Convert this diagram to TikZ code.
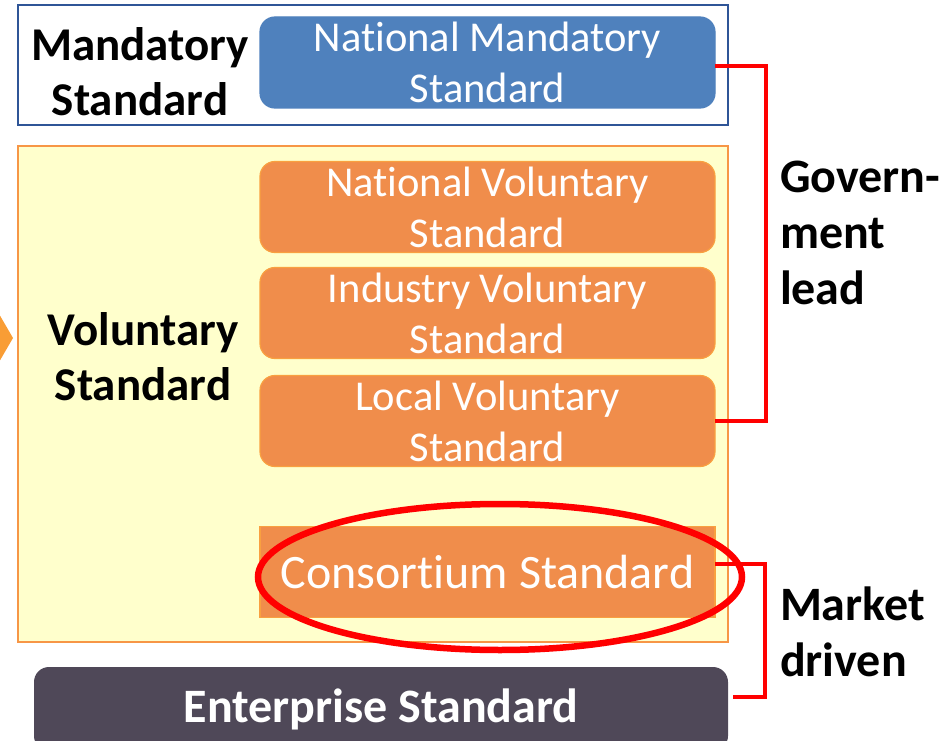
\documentclass[tikz,border=0pt]{standalone}
\usepackage{fontspec}
\setmainfont[Ligatures=NoCommon]{Carlito}
\usetikzlibrary{shapes.geometric,positioning}
\definecolor{mandblue}{HTML}{2F5597}
\definecolor{natblue}{HTML}{4F81BD}
\definecolor{volyellow}{HTML}{FFFFCC}
\definecolor{volorange}{HTML}{F79646}
\definecolor{boxorange}{HTML}{F08D4B}
\definecolor{boxedge}{HTML}{F9A040}
\definecolor{entgray}{HTML}{4F4858}
\definecolor{hired}{HTML}{FF0000}
\definecolor{arroworange}{HTML}{F99D35}
\begin{document}
\begin{tikzpicture}[
   x=1pt,y=-1pt,
   every node/.style={inner sep=0pt,outer sep=0pt},
   frame/.style={draw,line width=2pt,minimum width=710,rectangle},
   std/.style={fill=boxorange,draw=boxedge,line width=1.2pt,rounded corners=15pt,
      minimum width=455,minimum height=91,text=white,align=center,
      font=\fontsize{42.5}{51}\selectfont},
   head/.style={align=center,font=\bfseries\fontsize{47}{55}\selectfont},
   side/.style={anchor=west,align=left,font=\bfseries\fontsize{48}{56}\selectfont},
   brace/.style={draw=hired,line width=4pt}]
\useasboundingbox (0,0) rectangle (946,741);
% left arrow
\fill[arroworange] (-30,264) -- (13,338) -- (-30,412) -- cycle;
% mandatory part
\node[frame,draw=mandblue,fill=white,minimum height=120] (mand) at (373,65) {};
\node[head] (mandlbl) at (140,72) {Mandatory\\Standard};
\node[std,fill=natblue,draw=natblue] (nms) at (487.5,62.5) {National Mandatory\\Standard};
% voluntary part
\node[frame,draw=volorange,fill=volyellow,minimum height=496] (vol) at (373,394) {};
\node[head] (vollbl) at (143,357) {Voluntary\\Standard};
\node[std] (nvs) at (487.5,207) {National Voluntary\\Standard};
\node[std] (ivs) at (487.5,313) {Industry Voluntary\\Standard};
\node[std] (lvs) at (487.5,421) {Local Voluntary\\Standard};
\node[std,rounded corners=0pt,font=\fontsize{48}{56}\selectfont] (cons) at (487.5,572) {Consortium Standard};
\node[draw=hired,line width=6.5pt,ellipse,minimum width=484,minimum height=146] (ring) at (500,577) {};
% enterprise
\node[fill=entgray,rounded corners=15pt,minimum width=694,minimum height=84,text=white,
   font=\bfseries\fontsize{48}{56}\selectfont] (ent) at (381,709) {Enterprise Standard};
% brackets
\draw[brace] (nms.east) ++(0,4) coordinate (g1) -- ++(51,0) coordinate (g2) |- (lvs.east);
\node[side] (gov) at (780,233) {Govern-\\ment\\lead};
\draw[brace] ([yshift=8pt]cons.east) -- ++(50,0) coordinate (m2) |- ([xshift=5pt,yshift=12pt]ent.east);
\node[side] (mkt) at (780,632) {Market\\driven};
\end{tikzpicture}
\end{document}
